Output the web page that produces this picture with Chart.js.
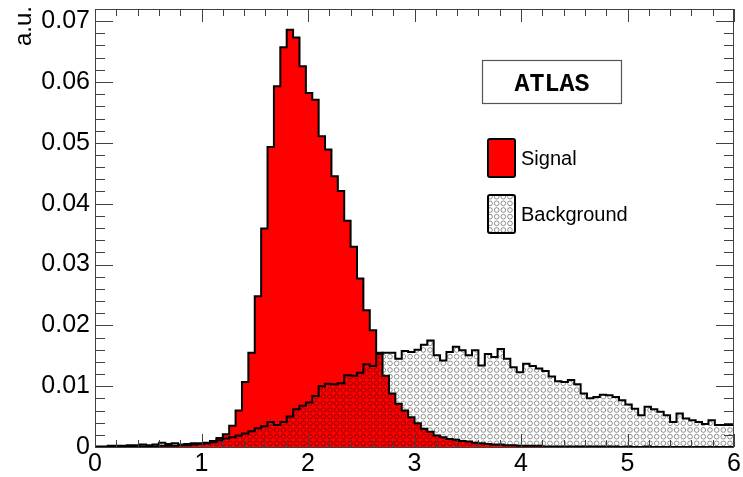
<!DOCTYPE html>
<html>
<head>
<meta charset="utf-8">
<script src="https://cdn.jsdelivr.net/npm/chart.js@4.4.1/dist/chart.umd.min.js"></script>
<style>
  html, body { margin: 0; padding: 0; background: #ffffff; }
  #wrap { width: 743px; height: 477px; }
</style>
</head>
<body>
<div id="wrap"><canvas id="c" width="743" height="477"></canvas></div>
<script>
// ---- data ----
const xRange = [0, 6];          // histogram axis range
const nBins = 100;              // bins of width 0.06
const signal = [
  0, 0, 0, 0, 0, 0.0001, 0.0001, 0.0001, 0.0001, 0.0001,
  0.0001, 0.0002, 0.0002, 0.0002, 0.0003, 0.0003, 0.0004, 0.0005, 0.0007, 0.0010,
  0.0015, 0.0021, 0.0035, 0.0060, 0.0107, 0.0155, 0.0248, 0.0359, 0.0493, 0.0593,
  0.0657, 0.0686, 0.0673, 0.0626, 0.0582, 0.0571, 0.0511, 0.0489, 0.0445, 0.0421,
  0.0372, 0.0329, 0.0277, 0.0225, 0.0192, 0.0155, 0.0117, 0.0088, 0.0071, 0.0060,
  0.0049, 0.0039, 0.0030, 0.0025, 0.0019, 0.0016, 0.0013, 0.0012, 0.0010, 0.0009,
  0.0007, 0.0006, 0.0005, 0.0004, 0.0004, 0.0003, 0.0003, 0.0002, 0.0002, 0.0002,
  0.0002, 0.0001, 0.0001, 0.0001, 0.0001, 0.0001, 0.0001, 0.0001, 0.0001, 0.0001,
  0.0001, 0.0001, 0.0001, 0, 0.0001, 0, 0, 0.0001, 0, 0,
  0, 0, 0, 0, 0, 0, 0, 0, 0, 0
];
const background = [
  0.0001, 0.0001, 0.0001, 0.0002, 0.0002, 0.0002, 0.0003, 0.0003, 0.0004, 0.0003,
  0.0004, 0.0007, 0.0005, 0.0006, 0.0004, 0.0005, 0.0006, 0.0006, 0.0006, 0.0008,
  0.0011, 0.0014, 0.0016, 0.0019, 0.0022, 0.0026, 0.0031, 0.0034, 0.0041, 0.0036,
  0.0041, 0.0050, 0.0062, 0.0068, 0.0073, 0.0084, 0.0100, 0.0104, 0.0103, 0.0105,
  0.0118, 0.0117, 0.0122, 0.0136, 0.0133, 0.0153, 0.0155, 0.0155, 0.0145, 0.0158,
  0.0156, 0.0160, 0.0168, 0.0175, 0.0151, 0.0142, 0.0156, 0.0165, 0.0159, 0.0151,
  0.0159, 0.0134, 0.0153, 0.0148, 0.0161, 0.0145, 0.0131, 0.0123, 0.0137, 0.0133,
  0.0129, 0.0125, 0.0116, 0.0108, 0.0107, 0.0110, 0.0103, 0.0088, 0.0080, 0.0082,
  0.0086, 0.0085, 0.0082, 0.0077, 0.0070, 0.0063, 0.0052, 0.0066, 0.0062, 0.0058,
  0.0052, 0.0041, 0.0055, 0.0047, 0.0044, 0.0041, 0.0038, 0.0044, 0.0036, 0.0036
];
const xTickValues = [0, 1, 2, 3, 4, 5, 6];
const xTickLabels = ['0', '1', '2', '3', '4', '5', '6'];
const yTickValues = [0, 0.01, 0.02, 0.03, 0.04, 0.05, 0.06, 0.07];
const yTickLabels = ['0', '0.01', '0.02', '0.03', '0.04', '0.05', '0.06', '0.07'];
const yMax = 0.072;
const seriesNames = ['Signal', 'Background'];
const yTitle = 'a.u.';
const boxLabel = 'ATLAS';

// ---- helpers ----
const binW = (xRange[1] - xRange[0]) / nBins;
function stepPoints(vals) {
  const pts = [{ x: xRange[0], y: 0 }];
  vals.forEach((v, i) => pts.push({ x: xRange[0] + i * binW, y: v }));
  pts.push({ x: xRange[1], y: vals[vals.length - 1] });
  pts.push({ x: xRange[1], y: 0 });
  return pts;
}

function makeCirclePattern() {
  const t = document.createElement('canvas');
  t.width = 20; t.height = 20;
  const g = t.getContext('2d');
  g.strokeStyle = 'rgba(0,0,0,0.42)';
  g.lineWidth = 1;
  const s = 20 / 3;
  for (let i = 0; i < 3; i++) {
    for (let j = 0; j < 3; j++) {
      g.beginPath();
      g.arc(s / 2 + i * s, s / 2 + j * s, 2.35, 0, Math.PI * 2);
      g.stroke();
    }
  }
  return document.getElementById('c').getContext('2d').createPattern(t, 'repeat');
}
const circlePattern = makeCirclePattern();

// ---- ROOT-like frame, inward ticks, legend, titles ----
const rootDecor = {
  id: 'rootDecor',
  afterDatasetsDraw(chart) {
    const ctx = chart.ctx;
    const a = chart.chartArea;
    const xs = chart.scales.x, ys = chart.scales.y;
    ctx.save();
    ctx.strokeStyle = '#404040';
    ctx.lineWidth = 1;
    // frame
    ctx.strokeRect(Math.round(a.left) + 0.5, Math.round(a.top) + 0.5,
                   Math.round(a.right - a.left) - 1, Math.round(a.bottom - a.top));
    ctx.beginPath();
    // x ticks (major each 1, minor each 0.2)
    for (let k = 0; k <= 30; k++) {
      const v = k * 0.2;
      const px = Math.round(xs.getPixelForValue(v)) + 0.5;
      const len = (k % 5 === 0) ? 13 : 7;
      ctx.moveTo(px, a.bottom); ctx.lineTo(px, a.bottom - len);
      ctx.moveTo(px, a.top); ctx.lineTo(px, a.top + len);
    }
    // y ticks (major each 0.01, minor each 0.002)
    for (let k = 0; k <= 36; k++) {
      const v = k * 0.002;
      const py = Math.round(ys.getPixelForValue(v)) + 0.5;
      const len = (k % 5 === 0) ? 18 : 10;
      ctx.moveTo(a.left, py); ctx.lineTo(a.left + len, py);
      ctx.moveTo(a.right, py); ctx.lineTo(a.right - len, py);
    }
    ctx.stroke();

    // y title
    ctx.save();
    ctx.translate(31, 6);
    ctx.rotate(-Math.PI / 2);
    ctx.fillStyle = '#000';
    ctx.font = '24px "Liberation Sans", Arial, sans-serif';
    ctx.textAlign = 'right';
    ctx.textBaseline = 'alphabetic';
    ctx.fillText(yTitle, 0, 0);
    ctx.restore();

    // ATLAS box
    ctx.fillStyle = '#fff';
    ctx.fillRect(482, 60, 140, 44);
    ctx.strokeStyle = '#555';
    ctx.lineWidth = 1.2;
    ctx.strokeRect(482.5, 60.5, 139, 43);
    ctx.fillStyle = '#000';
    ctx.font = 'bold 25px "Liberation Mono", "Courier New", monospace';
    ctx.textAlign = 'center';
    ctx.textBaseline = 'middle';
    ctx.fillText(boxLabel, 552, 85);

    // legend entries
    ctx.textAlign = 'left';
    ctx.font = '20px "Liberation Sans", Arial, sans-serif';
    const entries = [
      { y: 139, fill: '#ff0000' },
      { y: 195, fill: circlePattern }
    ];
    entries.forEach((e, i) => {
      ctx.fillStyle = '#fff';
      ctx.fillRect(488, e.y, 27, 38);
      ctx.fillStyle = e.fill;
      ctx.fillRect(488, e.y, 27, 38);
      ctx.strokeStyle = '#000';
      ctx.lineWidth = 2;
      ctx.beginPath();
      if (ctx.roundRect) ctx.roundRect(488, e.y, 27, 38, 2); else ctx.rect(488, e.y, 27, 38);
      ctx.stroke();
      ctx.fillStyle = '#000';
      ctx.fillText(seriesNames[i], 521, e.y + 20);
    });
    ctx.restore();
  }
};

new Chart(document.getElementById('c'), {
  type: 'line',
  data: {
    datasets: [
      {
        label: seriesNames[0],
        data: stepPoints(signal),
        stepped: 'after',
        fill: 'origin',
        backgroundColor: '#ff0000',
        borderColor: '#000000',
        borderWidth: 2,
        pointRadius: 0,
        order: 2
      },
      {
        label: seriesNames[1],
        data: stepPoints(background),
        stepped: 'after',
        fill: 'origin',
        backgroundColor: circlePattern,
        borderColor: '#000000',
        borderWidth: 2,
        pointRadius: 0,
        order: 1
      }
    ]
  },
  options: {
    responsive: false,
    animation: false,
    events: [],
    layout: { padding: { left: 0, top: 9, right: 9, bottom: 0 } },
    plugins: { legend: { display: false }, tooltip: { enabled: false } },
    scales: {
      x: {
        type: 'linear', min: xRange[0], max: xRange[1],
        afterBuildTicks: (s) => { s.ticks = xTickValues.map(v => ({ value: v })); },
        afterFit: (s) => { s.height = 30; s.paddingLeft = 0; s.paddingRight = 0; },
        ticks: {
          autoSkip: false, maxRotation: 0, padding: 2, color: '#000',
          font: { family: '"Liberation Sans", Arial, sans-serif', size: 25 },
          callback: (v, i) => xTickLabels[i]
        },
        grid: { display: false, drawTicks: false },
        border: { display: false }
      },
      y: {
        type: 'linear', min: 0, max: yMax,
        afterBuildTicks: (s) => { s.ticks = yTickValues.map(v => ({ value: v })); },
        afterFit: (s) => { s.width = 95; s.paddingTop = 0; s.paddingBottom = 0; },
        ticks: {
          autoSkip: false, padding: 5, color: '#000',
          font: { family: '"Liberation Sans", Arial, sans-serif', size: 25 },
          callback: (v, i) => yTickLabels[i]
        },
        grid: { display: false, drawTicks: false },
        border: { display: false }
      }
    }
  },
  plugins: [rootDecor]
});
</script>
</body>
</html>
